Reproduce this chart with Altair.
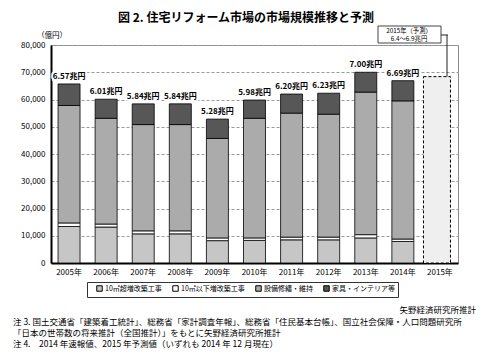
import altair as alt
import pandas as pd

FONT = "Noto Sans CJK JP"

years = ["2005年", "2006年", "2007年", "2008年", "2009年", "2010年",
         "2011年", "2012年", "2013年", "2014年"]
forecast_year = "2015年"
categories = ["10㎡超増改築工事", "10㎡以下増改築工事", "設備修繕・維持", "家具・インテリア等"]

# 億円
over10 = [13400, 13200, 10700, 10700, 8200, 8300, 8500, 8500, 9200, 7900]
under10 = [1300, 1100, 1100, 1100, 1000, 900, 1000, 1000, 1200, 900]
equipment = [43100, 38800, 39000, 39000, 36500, 43900, 45500, 45100, 52300, 50700]
furniture = [7900, 7000, 7600, 7600, 7100, 6700, 7000, 7700, 7300, 7400]
total_labels = ["6.57兆円", "6.01兆円", "5.84兆円", "5.84兆円", "5.28兆円",
                "5.98兆円", "6.20兆円", "6.23兆円", "7.00兆円", "6.69兆円"]
forecast_value = 68400
forecast_note = ["2015年（予測）", "6.4～6.9兆円"]
y_ticks = [0, 10000, 20000, 30000, 40000, 50000, 60000, 70000, 80000]

colors = ["#c6c6c6", "#ffffff", "#ababab", "#575757"]

series = [over10, under10, equipment, furniture]
rows = []
for i, yr in enumerate(years):
    for k, cat in enumerate(categories):
        rows.append({"year": yr, "cat": cat, "val": series[k][i], "k": k})
df = pd.DataFrame(rows)
tot = pd.DataFrame({
    "year": years,
    "val": [sum(s[i] for s in series) for i in range(len(years))],
    "label": total_labels,
})
fc = pd.DataFrame({"year": [forecast_year], "val": [forecast_value]})
one = pd.DataFrame({"a": [0]})

W, H = 407, 218

xscale = alt.Scale(domain=years + [forecast_year], paddingInner=0.407, paddingOuter=0.19)
yscale = alt.Scale(domain=[0, 80000], nice=False)

x_axis = alt.Axis(title=None, labelAngle=0, ticks=False, labelFontSize=8,
                  labelFont=FONT, labelColor="black", labelPadding=5,
                  domainColor="black", domainWidth=2, grid=False)
y_axis = alt.Axis(title=None, values=y_ticks, format=",d", ticks=False,
                  labelFontSize=8, labelFont=FONT, labelColor="black",
                  labelPadding=6, domainColor="black", domainWidth=2,
                  grid=True, gridColor="#9a9a9a", gridDash=[3, 2], gridWidth=1)

x_enc = alt.X("year:N", scale=xscale, sort=None, axis=x_axis)
y_enc = alt.Y("val:Q", scale=yscale, axis=y_axis)

bars = alt.Chart(df).mark_bar(stroke="black", strokeWidth=0.8).encode(
    x=x_enc,
    y=alt.Y("val:Q", stack="zero", scale=yscale, axis=y_axis),
    color=alt.Color("cat:N", scale=alt.Scale(domain=categories, range=colors),
                    legend=alt.Legend(title=None, orient="none", legendX=36, legendY=237,
                                      direction="horizontal", symbolType="square",
                                      symbolSize=30, symbolStrokeColor="black",
                                      symbolStrokeWidth=1, labelFontSize=7,
                                      labelFont=FONT, labelColor="black",
                                      columnPadding=4, gridAlign="none",
                                      strokeColor="#333", labelOffset=2,
                                      fillColor="white", padding=3, symbolOffset=6)),
    order=alt.Order("k:Q"),
)

forecast = alt.Chart(fc).mark_bar(width=27, xOffset=-3, fill="#efefef", stroke="black",
                                  strokeWidth=1, strokeDash=[3, 2]).encode(
    x=x_enc, y=y_enc,
)

halo = alt.Chart(tot).mark_text(dy=-7, fontSize=8, fontWeight="bold", font=FONT,
                                stroke="white", strokeWidth=4, color="white").encode(
    x=x_enc, y=y_enc, text="label:N",
)
labels = alt.Chart(tot).mark_text(dy=-7, fontSize=8, fontWeight="bold", font=FONT,
                                  color="black").encode(
    x=x_enc, y=y_enc, text="label:N",
)

box = alt.Chart(one).mark_rect(fill="white", stroke="#444", strokeWidth=1).encode(
    x=alt.value(327), x2=alt.value(390), y=alt.value(-19), y2=alt.value(-2))
box_t1 = alt.Chart(one).mark_text(fontSize=6.3, font=FONT, color="black", align="center").encode(
    x=alt.value(358), y=alt.value(-14.5), text=alt.value(forecast_note[0]))
box_t2 = alt.Chart(one).mark_text(fontSize=6.3, font=FONT, color="black", align="center").encode(
    x=alt.value(358), y=alt.value(-6), text=alt.value(forecast_note[1]))
lead_h = alt.Chart(one).mark_rule(color="#222", strokeWidth=1).encode(
    x=alt.value(390), x2=alt.value(397), y=alt.value(-10))
lead_v = alt.Chart(fc).mark_rule(color="#222", strokeWidth=1).encode(
    x=alt.value(396), y=y_enc, y2=alt.value(-10))

title = alt.Chart(one).mark_text(fontSize=12, fontWeight="bold", font=FONT, color="black",
                                 align="center", baseline="middle").encode(
    x=alt.value(195), y=alt.value(-27), text=alt.value("図 2. 住宅リフォーム市場の市場規模推移と予測"))
unit = alt.Chart(one).mark_text(fontSize=7.5, font=FONT, color="black", align="left").encode(
    x=alt.value(-14), y=alt.value(-9), text=alt.value("（億円）"))

notes = [
    ("矢野経済研究所推計", 425, 265, "right"),
    ("注 3. 国土交通省「建築着工統計」、総務省「家計調査年報」、総務省「住民基本台帳」、国立社会保障・人口問題研究所", -38, 277, "left"),
    ("「日本の世帯数の将来推計（全国推計）」をもとに矢野経済研究所推計", -38, 288, "left"),
    ("注 4.　2014 年速報値、2015 年予測値（いずれも 2014 年 12 月現在）", -38, 299, "left"),
]
note_layers = [
    alt.Chart(one).mark_text(fontSize=8.5, font=FONT, color="black", align=al).encode(
        x=alt.value(nx), y=alt.value(ny), text=alt.value(t))
    for t, nx, ny, al in notes
]

chart = alt.layer(bars, forecast, halo, labels, box, box_t1, box_t2, lead_h, lead_v,
                  title, unit, *note_layers).properties(
    width=W, height=H,
    autosize=alt.AutoSizeParams(type="none"),
    padding={"left": 43, "top": 37, "right": 30, "bottom": 88},
    background="white",
).configure_view(stroke="#8a8a8a", strokeWidth=1)

chart.save("out.html", embed_options={"renderer": "svg", "actions": False})
